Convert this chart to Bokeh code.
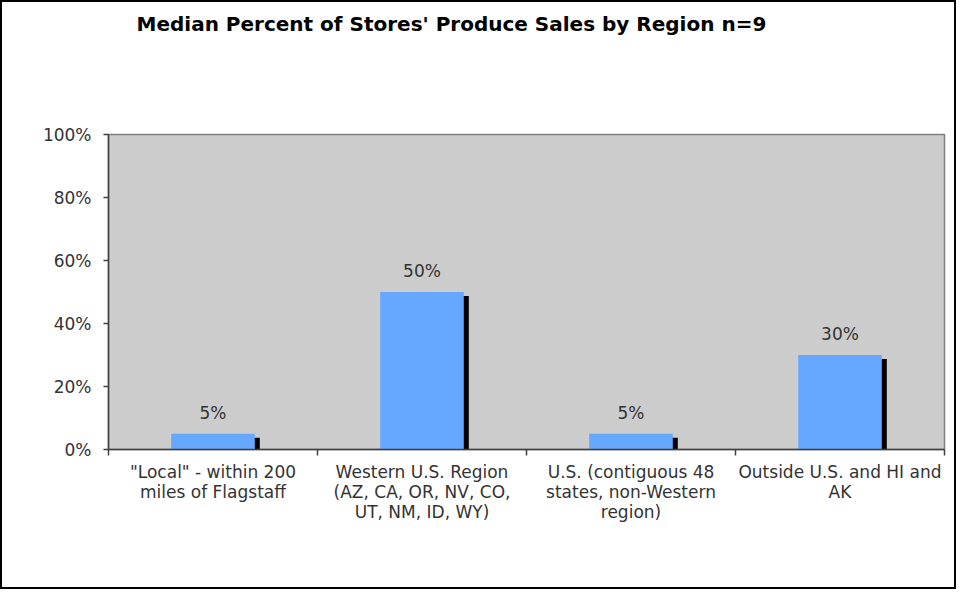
from bokeh.plotting import figure
from bokeh.models import (Range1d, FixedTicker, LinearAxis, LabelSet, Title,
                          ColumnDataSource, PrintfTickFormatter)
from bokeh.core.properties import value
from bokeh.transform import dodge
from bokeh.embed import file_html
from bokeh.resources import INLINE

# ---- data ----
categories = [
    '"Local" - within 200\nmiles of Flagstaff',
    'Western U.S. Region\n(AZ, CA, OR, NV, CO,\nUT, NM, ID, WY)',
    'U.S. (contiguous 48\nstates, non-Western\nregion)',
    'Outside U.S. and HI and\nAK',
]
values = [5, 50, 5, 30]
value_labels = ["5%", "50%", "5%", "30%"]
y_ticks = [0, 20, 40, 60, 80, 100]
chart_title = "Median Percent of Stores' Produce Sales by Region n=9"

FONT = "DejaVu Sans"
TXT = "#333333"

W, H = 956, 589
ML, MR, MT, MB = 106, 14, 132, 142
FW, FH = W - ML - MR, H - MT - MB

n = len(categories)
centers = [i + 0.5 for i in range(n)]
boundaries = list(range(n + 1))

src = ColumnDataSource(dict(x=centers, v=values, lab=value_labels))

p = figure(width=W, height=H, output_backend="svg", toolbar_location=None,
           x_range=Range1d(0, n), y_range=Range1d(0, 100),
           x_axis_type=None, y_axis_type=None,
           min_border_left=ML, min_border_right=MR,
           min_border_top=MT, min_border_bottom=MB)
p.styles = {"border": "2px solid black"}
p.background_fill_color = "#CCCCCC"
p.border_fill_color = "white"
p.outline_line_color = "#808080"
p.outline_line_width = 1.5

# spacer between title and plot area, then the title itself
spacer = Title(text=" ", text_font_size="10px", standoff=75)
p.add_layout(spacer, "above")
main_title = Title(text=chart_title, text_font=FONT, text_font_style="bold",
                   text_font_size="20px", text_color="black",
                   align="left", offset=28, vertical_align="top", standoff=17)
p.add_layout(main_title, "above")

# shadow bars (offset a few pixels right / down)
dx = 5.0 * n / FW
dy = 4.0 * 100 / FH
p.vbar(x=dodge("x", dx, range=p.x_range), top=dodge("v", -dy, range=p.y_range),
       bottom=-dy, width=0.4, source=src, fill_color="black", line_color=None)
# main bars
p.vbar(x="x", top="v", bottom=0, width=0.4, source=src,
       fill_color="#66A8FF", line_color=None)

labels = LabelSet(x="x", y="v", text="lab", source=src, y_offset=15,
                  text_align="center", text_baseline="alphabetic",
                  text_font=value(FONT), text_font_size=value("17px"),
                  text_color=TXT)
p.add_layout(labels)

# y axis
yax = LinearAxis(ticker=FixedTicker(ticks=y_ticks),
                 formatter=PrintfTickFormatter(format="%d%%"))
yax.major_tick_out = 5
yax.major_tick_in = 0
yax.minor_tick_out = 0
yax.minor_tick_in = 0
yax.axis_line_color = "#404040"
yax.axis_line_width = 1.5
yax.major_tick_line_color = "#404040"
yax.major_tick_line_width = 1.5
yax.major_label_text_font = FONT
yax.major_label_text_font_size = "17px"
yax.major_label_text_color = TXT
yax.major_label_standoff = 12
p.add_layout(yax, "left")

# x axis
xax = LinearAxis(ticker=FixedTicker(ticks=centers, minor_ticks=boundaries),
                 major_label_overrides={c: lab for c, lab in zip(centers, categories)})
xax.major_tick_out = 0
xax.major_tick_in = 0
xax.minor_tick_out = 6
xax.minor_tick_in = 0
xax.minor_tick_line_color = "#404040"
xax.minor_tick_line_width = 1.5
xax.axis_line_color = "#404040"
xax.axis_line_width = 1.5
xax.major_label_text_font = FONT
xax.major_label_text_font_size = "17px"
xax.major_label_text_color = TXT
xax.major_label_text_line_height = 1.0
xax.major_label_standoff = 6
p.add_layout(xax, "below")

open("out.html", "w").write(file_html(p, INLINE))
